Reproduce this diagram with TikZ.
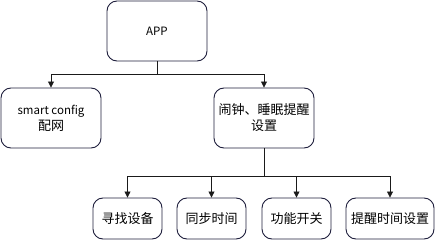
\documentclass[tikz,border=0pt]{standalone}
\usepackage{fontspec}
\setmainfont{Noto Sans CJK SC}
\usetikzlibrary{arrows.meta}
\definecolor{boxline}{HTML}{1E1E3C}
\definecolor{conn}{HTML}{1A1A1A}
\newcommand{\zhtext}[1]{{\fontsize{13}{16}\selectfont #1}}
\tikzset{
  box/.style={draw=boxline, line width=0.9pt, rounded corners=10pt, align=center,
    font=\fontsize{11.5}{16}\selectfont, inner sep=0pt},
  bigbox/.style={box, minimum width=100pt, minimum height=60pt},
  smallbox/.style={box, minimum width=69pt, minimum height=41pt},
  conn/.style={draw=conn, line width=0.8pt, -{Triangle[length=6pt,width=6pt]}},
}
\begin{document}
\begin{tikzpicture}[x=1pt,y=-1pt]
\useasboundingbox (0,0) rectangle (436,240);
\node[bigbox] (app) at (157,31) {APP};
\node[bigbox] (sc) at (51,118) {smart config\\\zhtext{配网}};
\node[bigbox] (alarm) at (264,118) {\zhtext{闹钟、睡眠提醒}\\\zhtext{设置}};
\node[smallbox] (b1) at (127.5,218.5) {\zhtext{寻找设备}};
\node[smallbox] (b2) at (211.5,218.5) {\zhtext{同步时间}};
\node[smallbox] (b3) at (296.5,218.5) {\zhtext{功能开关}};
\node[smallbox, minimum width=88pt] (b4) at (390,218.5) {\zhtext{提醒时间设置}};
\coordinate (j1) at (157,74);
\coordinate (j2) at (264,176);
\draw[draw=conn, line width=0.8pt] (app.south) -- (j1);
\draw[conn] (j1) -| (sc.north);
\draw[conn] (j1) -| (alarm.north);
\draw[draw=conn, line width=0.8pt] (alarm.south) -- (j2);
\draw[conn] (j2) -| (b1.north);
\draw[conn] (j2) -| (b2.north);
\draw[conn] (j2) -| (b3.north);
\draw[conn] (j2) -| (b4.north);
\end{tikzpicture}
\end{document}
